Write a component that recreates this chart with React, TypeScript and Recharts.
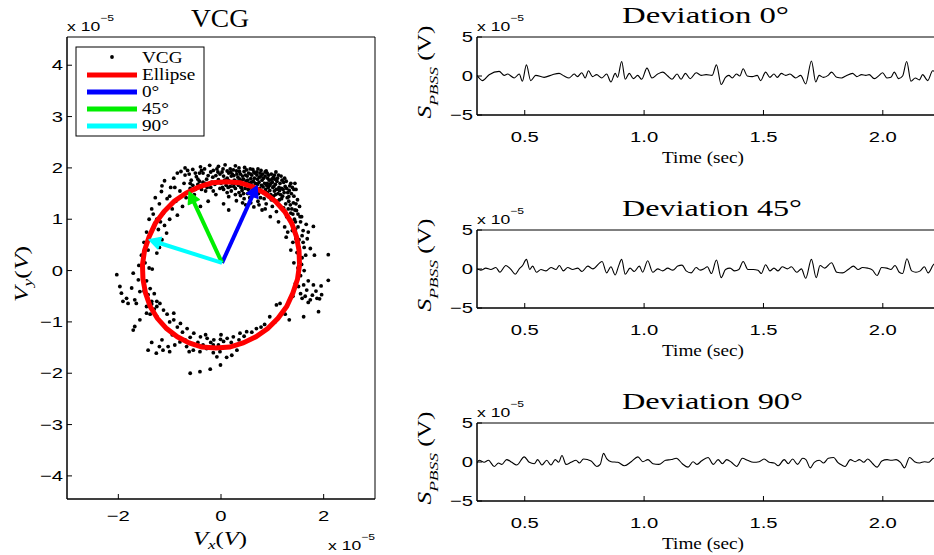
import React from 'react';
import { ScatterChart, Scatter, LineChart, Line, XAxis, YAxis, ReferenceArea } from 'recharts';

const SERIF = '"Liberation Serif", "Times New Roman", serif';
const SANS = '"Liberation Sans", Arial, sans-serif';

// VCG loop samples (x 1e-5 V)
const vcgPoints: [number, number][] = [
  [-0.78, 1.93], [-0.7, 2.0], [-0.62, 1.88], [-0.55, 1.97], [-0.48, 1.83], [-0.4, 2.02], [-0.35, 1.9], [-0.28, 1.78],
  [-0.22, 2.05], [-0.15, 1.95], [-0.1, 1.85], [-0.05, 2.03], [0.02, 1.92], [0.08, 2.06], [0.12, 1.8], [0.18, 1.98],
  [0.22, 1.88], [0.28, 2.04], [0.32, 1.74], [0.36, 1.93], [0.42, 1.84], [0.46, 2.01], [0.5, 1.68], [0.54, 1.9],
  [0.58, 1.79], [0.62, 1.97], [0.66, 1.58], [0.7, 1.86], [0.74, 1.72], [0.78, 1.95], [0.82, 1.63], [0.86, 1.84],
  [0.9, 1.52], [0.94, 1.76], [0.98, 1.88], [1.02, 1.45], [1.06, 1.68], [1.1, 1.8], [1.14, 1.38], [1.18, 1.6],
  [1.22, 1.72], [1.26, 1.3], [1.3, 1.52], [1.34, 1.65], [1.38, 1.2], [1.42, 1.45], [1.46, 1.58], [1.5, 1.1],
  [-0.3, 1.55], [-0.2, 1.62], [-0.1, 1.48], [0.0, 1.7], [0.05, 1.58], [0.1, 1.66], [0.15, 1.44], [0.2, 1.55],
  [0.25, 1.64], [0.3, 1.36], [0.35, 1.52], [0.4, 1.62], [0.45, 1.4], [0.48, 1.28], [0.52, 1.5], [0.56, 1.42],
  [0.6, 1.66], [0.64, 1.24], [0.68, 1.45], [0.72, 1.35], [0.76, 1.55], [0.8, 1.18], [0.84, 1.4], [0.88, 1.3],
  [0.92, 1.62], [0.96, 1.05], [1.0, 1.25], [1.04, 1.55], [1.08, 1.15], [1.12, 0.95], [1.16, 1.25], [1.2, 1.45],
  [1.24, 0.85], [1.28, 1.05], [1.32, 1.35],
  [-0.05, 1.77], [0.15, 1.75], [0.25, 1.85], [0.4, 1.75], [0.55, 1.7], [0.65, 1.8], [0.75, 1.82], [0.85, 1.7],
  [0.95, 1.66], [1.05, 1.78], [1.15, 1.7], [0.45, 1.93], [0.6, 1.86], [0.7, 1.92], [0.8, 1.76], [0.9, 1.9],
  [1.0, 1.72], [0.35, 2.0], [0.15, 1.9], [-0.25, 1.85],
  [0.22, 1.7], [0.28, 1.6], [0.33, 1.82], [0.38, 1.46], [0.43, 1.68], [0.48, 1.86], [0.53, 1.58], [0.57, 1.98],
  [0.62, 1.48], [0.67, 1.7], [0.72, 1.98], [0.77, 1.42], [0.81, 1.88], [0.87, 1.58], [0.91, 1.8], [0.97, 1.48],
  [1.01, 1.62], [1.07, 1.92], [1.11, 1.5], [1.17, 1.84], [1.21, 1.58], [1.27, 1.74], [1.31, 1.2], [1.37, 1.5],
  [1.41, 1.32], [1.44, 1.7], [1.49, 1.38], [1.53, 1.25], [1.57, 1.05], [1.43, 1.0], [1.39, 0.78], [1.27, 0.65],
  [-0.18, 1.72], [-0.08, 1.98], [0.05, 1.84], [-0.32, 1.98], [-0.42, 1.74], [-0.58, 1.76], [-0.65, 1.95], [-0.85, 1.9],
  [-0.25, 1.35], [0.05, 1.3], [0.15, 1.18], [-0.4, 1.25],
  [-0.5, 1.9], [-0.45, 1.78], [-0.38, 1.95], [-0.3, 1.7], [-0.2, 1.92], [-0.12, 1.68], [-0.02, 1.88], [0.04, 1.98],
  [0.1, 1.72], [0.12, 1.94], [0.18, 1.64], [0.2, 1.84], [0.26, 1.76], [0.3, 1.94], [0.34, 1.66], [0.38, 1.88],
  [0.41, 1.56], [0.44, 1.78], [0.47, 1.6], [0.5, 1.96], [0.52, 1.76], [0.55, 1.52], [0.58, 1.88], [0.61, 1.58],
  [0.63, 1.74], [0.66, 1.9], [0.69, 1.62], [0.71, 1.78], [0.73, 1.5], [0.76, 1.9], [0.79, 1.66], [0.83, 1.8],
  [0.85, 1.5], [0.88, 1.94], [0.89, 1.66], [0.93, 1.86], [0.95, 1.56], [0.99, 1.78], [1.03, 1.64], [1.04, 1.86],
  [1.08, 1.58], [1.09, 1.74], [1.13, 1.62], [1.16, 1.48], [1.19, 1.76], [1.23, 1.52], [1.25, 1.64], [1.29, 1.42],
  [1.33, 1.56], [1.35, 1.28], [1.39, 1.62], [1.4, 1.1], [1.46, 1.3], [1.44, 1.18], [1.36, 1.12], [1.22, 1.22],
  [1.1, 1.35], [0.98, 1.38], [0.86, 1.2], [0.74, 1.28], [0.58, 1.32], [0.42, 1.32], [0.28, 1.48], [0.12, 1.52],
  [-0.02, 1.6], [-0.15, 1.55], [-0.35, 1.72], [-0.55, 1.66], [-0.7, 1.86], [-0.9, 1.62], [-1.0, 1.45], [-1.15, 1.65],
  [-1.28, 1.42], [-1.4, 1.0], [-1.32, 1.1], [-1.1, 0.88], [-1.22, 0.8], [-1.15, 0.6], [-1.3, 0.55], [-1.2, 0.45],
  [-0.6, 1.7], [-0.5, 1.58], [-0.42, 1.9], [-0.27, 1.62], [-0.16, 1.82], [-0.06, 1.92], [0.03, 1.62], [0.07, 1.76],
  [0.14, 1.62], [0.19, 1.92], [0.24, 1.96], [0.27, 1.7], [0.31, 1.88], [0.37, 1.78], [0.39, 1.62], [0.44, 1.5],
  [0.49, 1.74], [0.51, 1.84], [0.56, 1.62], [0.59, 1.72], [0.64, 1.92], [0.67, 1.52], [0.71, 1.68], [0.75, 1.6],
  [0.78, 1.84], [0.82, 1.52], [0.86, 1.92], [0.9, 1.7], [0.93, 1.44], [0.97, 1.7], [1.02, 1.82], [1.06, 1.48],
  [1.12, 1.86], [1.14, 1.56], [1.18, 1.4], [1.24, 1.8], [1.28, 1.6], [1.32, 1.44], [1.36, 1.7], [1.42, 1.58],
  [-1.16, 1.54], [-1.1, 1.75], [-1.05, 1.4], [-0.98, 1.62], [-0.92, 1.8], [-0.88, 1.35], [-0.8, 1.55], [-0.72, 1.7],
  [-0.68, 1.42], [-0.6, 1.6], [-0.52, 1.48], [-0.45, 1.68], [-0.38, 1.58], [-1.12, 1.12], [-1.2, 1.3], [-1.25, 1.0],
  [-1.3, 0.85], [-1.06, 0.73], [-1.18, 0.95], [-0.95, 1.2], [-0.85, 1.08], [-0.75, 1.25], [-1.35, 1.2], [-1.0, 1.0],
  [1.47, 1.17], [1.55, 0.95], [1.6, 0.78], [1.52, 0.6], [1.62, 0.45], [1.45, 0.8], [1.4, 0.55], [1.35, 0.98],
  [1.58, 0.25], [1.48, 0.35], [1.42, 0.15], [1.8, 0.86], [1.74, 0.43], [1.82, 0.3], [1.68, 0.62], [2.09, 0.31],
  [1.3, 0.75], [1.36, 0.4], [1.5, 0.05], [1.55, -0.1],
  [1.45, 0.95], [1.5, 0.85], [1.58, 0.68], [1.6, 0.55], [1.52, 0.45], [1.65, 0.3], [1.57, 0.12], [1.62, 0.0],
  [1.46, 0.62], [1.38, 0.9], [1.66, 0.9], [1.7, 0.75], [1.54, 1.05],
  [2.09, -0.19], [1.96, -0.47], [1.8, -0.28], [1.67, -0.38], [1.87, -0.54], [1.74, -0.57], [1.58, -0.54], [1.61, -0.28],
  [1.51, -0.31], [1.33, -0.96], [1.61, -0.9], [1.9, -0.8], [1.08, -0.67], [1.15, -0.64], [1.7, -0.2], [1.85, -0.4],
  [1.95, -0.3], [1.78, -0.48], [1.64, -0.5], [1.92, -0.55], [1.7, -0.62], [1.55, -0.45], [1.45, -0.25], [1.4, -0.5],
  [-1.45, 0.75], [-1.5, 0.55], [-1.42, 0.4], [-1.55, 0.3], [-1.48, 0.15], [-1.4, 0.05], [-1.52, -0.05], [-1.45, -0.2],
  [-1.38, -0.35], [-1.5, -0.4], [-1.42, -0.55], [-1.35, -0.65], [-1.3, -0.75], [-1.25, -0.6], [-1.45, -0.7], [-1.38, -0.85],
  [-1.3, -0.45], [-1.6, 0.1], [-1.25, 0.34], [-1.34, 0.03],
  [-2.03, -0.08], [-1.71, -0.05], [-1.61, -0.18], [-1.94, -0.44], [-1.91, -0.6], [-1.81, -0.64], [-1.68, -0.57], [-1.58, -0.41],
  [-1.74, -0.34], [-1.84, -0.54], [-1.71, -1.16], [-1.68, -1.09], [-1.58, -0.96], [-1.45, -0.83], [-1.97, -0.31], [-1.65, -0.64],
  [-1.19, -0.64], [-1.25, -0.9], [-1.12, -0.77], [-0.92, -0.96], [-0.79, -1.03], [-0.66, -1.13], [-0.53, -1.22], [-0.4, -1.29],
  [-0.27, -1.32], [-0.14, -1.35], [-0.01, -1.34], [0.12, -1.32], [0.24, -1.29], [0.37, -1.22], [0.5, -1.19], [0.69, -1.13],
  [-1.42, -1.55], [-1.26, -1.61], [-1.13, -1.55], [-1.03, -1.48], [-0.9, -1.45], [-0.8, -1.39], [-0.67, -1.48], [-0.54, -1.55],
  [-0.41, -1.58], [-0.28, -1.52], [-0.15, -1.45], [-0.02, -1.58], [0.11, -1.69], [0.21, -1.65], [0.31, -1.55], [-0.08, -1.68],
  [-1.0, -1.58], [-0.6, -2.0], [-0.41, -1.97], [-0.21, -1.92], [-0.01, -1.84],
  [-0.92, -0.83], [-1.25, -0.7], [-1.35, -0.6], [-1.42, -0.47],
  [-0.6, -1.3], [-0.45, -1.4], [-0.35, -1.45], [-0.2, -1.4], [-0.05, -1.45], [0.05, -1.38], [0.2, -1.4], [0.35, -1.35],
  [0.45, -1.28], [0.6, -1.2], [-0.75, -1.2], [-0.85, -1.1], [-1.0, -1.0], [-1.05, -0.85], [-0.5, -1.45], [-0.3, -1.25],
  [0.0, -1.25], [0.3, -1.45], [-0.7, -1.35], [-0.95, -1.25], [-1.15, -1.35], [-1.35, -1.4], [-1.2, -1.48], [-0.62, -1.58],
  [-0.15, -1.6], [1.35, -0.55], [1.25, -0.85], [1.05, -1.0], [0.85, -1.05], [0.78, -1.1], [0.95, -0.9],
];

// fitted ellipse outline
const ellipsePoints: [number, number][] = [
  [1.53, 0.11], [1.52, 0.39], [1.47, 0.66], [1.38, 0.92], [1.24, 1.15], [1.06, 1.35], [0.85, 1.51], [0.62, 1.63],
  [0.37, 1.71], [0.1, 1.73], [-0.17, 1.71], [-0.43, 1.63], [-0.68, 1.51], [-0.91, 1.35], [-1.11, 1.15], [-1.28, 0.92],
  [-1.4, 0.66], [-1.49, 0.39], [-1.53, 0.11], [-1.52, -0.17], [-1.47, -0.44], [-1.38, -0.7], [-1.24, -0.93], [-1.06, -1.13],
  [-0.85, -1.29], [-0.62, -1.41], [-0.37, -1.49], [-0.1, -1.51], [0.17, -1.49], [0.43, -1.41], [0.68, -1.29], [0.91, -1.13],
  [1.11, -0.93], [1.28, -0.7], [1.4, -0.44], [1.49, -0.17], [1.53, 0.11],
];

const arrow0: [number, number][] = [[0.02, 0.15], [0.7, 1.65]];
const arrow45: [number, number][] = [[0.02, 0.15], [-0.62, 1.53]];
const arrow90: [number, number][] = [[0.02, 0.15], [-1.4, 0.6]];

const vcgTicksX = [-2, 0, 2];
const vcgTicksY = [-4, -3, -2, -1, 0, 1, 2, 3, 4];
const timeTicks = [0.5, 1.0, 1.5, 2.0];
const ampTicks = [-5, 0, 5];

// S_PBSS traces, [time (s), amplitude x 1e-5 V]
const dev0: [number, number][] = [
  [0.3, 0.08], [0.323, -0.59], [0.351, 0.17], [0.393, 0.59], [0.414, 0.08], [0.428, 0.25], [0.456, -0.25], [0.477, 0.25],
  [0.49, -0.67], [0.507, 1.43], [0.525, -0.59], [0.546, 0.08], [0.581, -0.17], [0.616, 0.17], [0.644, 0.34], [0.665, 0],
  [0.686, -0.25], [0.707, 0.25], [0.721, -0.08], [0.739, 0.42], [0.753, -0.25], [0.767, 0.67], [0.784, -0.08], [0.801, 0.17],
  [0.823, -0.25], [0.843, 0.25], [0.861, -0.76], [0.879, 0.34], [0.889, -0.17], [0.906, 1.85], [0.921, -0.42], [0.938, 0.34],
  [0.955, -0.34], [0.973, 0.08], [0.99, -0.42], [1.012, 1.01], [1.033, -0.25], [1.057, 0.25], [1.078, 0.5], [1.099, 0],
  [1.117, -0.42], [1.138, 0.25], [1.155, -0.42], [1.173, 0.34], [1.193, -0.34], [1.218, 0.42], [1.239, 0.08], [1.26, 0.17],
  [1.285, 0.08], [1.303, 1.43], [1.323, -1.09], [1.341, -0.17], [1.355, 0.08], [1.369, -0.25], [1.387, 0.25], [1.401, 0],
  [1.415, 0.92], [1.432, 0], [1.453, -0.08], [1.474, 0.08], [1.488, -0.59], [1.509, 0.5], [1.527, -0.17], [1.544, 0.25],
  [1.558, -0.17], [1.575, 0.34], [1.593, 0.08], [1.611, 0.25], [1.635, -0.25], [1.656, 0.08], [1.677, -1.01], [1.701, 1.93],
  [1.719, -0.76], [1.733, 0.08], [1.751, -0.17], [1.771, 0.08], [1.785, 0.5], [1.807, -0.17], [1.827, -0.25], [1.845, 0],
  [1.873, 0.34], [1.891, -0.08], [1.911, 0.17], [1.929, 0.08], [1.943, 0.17], [1.964, -0.34], [1.985, 0.08], [1.999, 0.42],
  [2.017, -0.25], [2.034, -0.17], [2.048, 0.5], [2.066, -0.34], [2.083, 0], [2.1, 1.85], [2.118, -0.67], [2.136, -0.25],
  [2.153, -0.5], [2.167, 0.17], [2.188, -0.59], [2.209, 0.67], [2.227, 0.4],
];

const dev45: [number, number][] = [
  [0.3, 0], [0.316, -0.15], [0.337, 0.11], [0.358, -0.06], [0.379, 0.19], [0.396, -0.41], [0.421, 0.45], [0.442, -0.06],
  [0.46, -0.67], [0.477, 0.02], [0.491, 0.45], [0.507, 1.23], [0.521, -0.06], [0.533, 0.37], [0.549, -0.41], [0.568, -0.06],
  [0.589, -0.24], [0.61, 0.19], [0.631, -0.06], [0.645, 0.45], [0.662, -0.24], [0.68, 0.19], [0.701, -0.06], [0.722, 0.11],
  [0.74, -0.32], [0.764, 0.37], [0.785, 0.02], [0.824, 0.97], [0.843, -0.5], [0.861, 0.28], [0.879, -0.76], [0.893, 0.37],
  [0.906, 1.23], [0.921, -0.67], [0.941, 0.11], [0.959, -0.32], [0.98, 0.37], [0.994, -0.41], [1.015, 1.06], [1.036, -0.41],
  [1.057, 0.02], [1.078, -0.24], [1.099, 0.11], [1.12, -0.15], [1.141, 0.37], [1.159, 0.5], [1.176, -0.24], [1.197, -0.5],
  [1.218, 0.19], [1.235, -0.15], [1.251, 0.02], [1.265, 0.28], [1.282, -0.58], [1.303, 1.15], [1.323, -1.1], [1.341, -0.06],
  [1.36, 0.11], [1.379, -0.24], [1.397, -0.06], [1.415, 0.97], [1.435, -0.06], [1.457, -0.06], [1.477, -0.15], [1.491, -0.58],
  [1.509, 0.54], [1.527, -0.24], [1.544, 0.11], [1.561, -0.24], [1.579, 0.28], [1.6, 0.02], [1.617, 0.28], [1.639, -0.41],
  [1.659, 0.02], [1.677, -1.19], [1.701, 1.23], [1.721, -1.1], [1.737, 0.45], [1.757, 0.11], [1.785, 0.8], [1.807, -0.41],
  [1.831, -0.5], [1.855, -0.06], [1.877, 0.37], [1.897, -0.06], [1.915, 0.19], [1.936, 0.11], [1.957, -0.15], [1.976, -0.84],
  [1.995, 0.19], [2.017, 0.11], [2.034, -0.06], [2.051, 0.45], [2.069, -0.41], [2.083, -0.58], [2.101, 1.32], [2.121, -0.24],
  [2.139, -0.41], [2.157, -0.24], [2.174, 0.28], [2.19, -0.5], [2.216, 0.63], [2.227, 0.45],
];

const dev90: [number, number][] = [
  [0.3, -0.13], [0.309, 0.22], [0.33, -0.04], [0.348, 0.22], [0.372, -0.57], [0.39, -0.13], [0.404, -0.31], [0.424, 0.31],
  [0.446, -0.04], [0.466, -0.39], [0.498, 0.66], [0.519, -0.04], [0.54, -0.22], [0.554, 0.31], [0.572, -0.39], [0.592, 0.22],
  [0.61, -0.39], [0.628, 0.31], [0.642, -0.04], [0.656, 0.83], [0.673, -0.31], [0.694, -0.04], [0.715, 0.22], [0.729, -0.13],
  [0.746, 0.39], [0.778, 0.13], [0.802, -0.57], [0.816, -0.31], [0.83, 1.1], [0.844, 0.39], [0.862, 0.04], [0.89, -0.04],
  [0.918, -0.48], [0.946, 0.04], [0.974, 0.66], [0.995, 0.04], [1.016, 0.31], [1.037, -0.22], [1.062, -0.31], [1.09, 0.22],
  [1.114, 0.31], [1.135, 0.48], [1.16, -0.22], [1.184, -0.66], [1.205, 0.04], [1.222, -0.31], [1.24, 0.13], [1.268, 0.57],
  [1.29, -0.31], [1.31, 0.31], [1.328, -0.22], [1.346, 0.31], [1.366, -0.04], [1.388, -0.57], [1.412, 0.48], [1.433, 0.22],
  [1.458, -0.04], [1.482, 0.04], [1.503, 0.39], [1.524, -0.04], [1.545, -0.13], [1.562, -0.48], [1.587, 0.31], [1.604, -0.22],
  [1.622, 0.39], [1.643, -0.31], [1.664, 0.48], [1.678, 0.31], [1.696, -0.75], [1.713, -0.04], [1.734, 0.22], [1.752, -0.13],
  [1.772, 0.48], [1.794, 0.57], [1.811, -0.04], [1.828, -0.39], [1.842, -0.57], [1.864, 0.31], [1.884, 0.04], [1.902, 0.31],
  [1.92, -0.04], [1.937, 0.39], [1.958, -0.22], [1.976, -0.66], [1.996, 0.13], [2.018, 0.31], [2.035, 0.22], [2.056, 0.31],
  [2.074, -0.04], [2.091, -0.75], [2.112, 0.57], [2.133, 0.04], [2.154, -0.13], [2.174, 0.04], [2.191, -0.04], [2.213, 0.48],
  [2.227, 0.3],
];

const toXY = (pts: [number, number][]) => pts.map(([x, y]) => ({ x, y }));
const toTV = (pts: [number, number][]) => pts.map(([t, v]) => ({ t, v }));

const minus = (v: number) => (v < 0 ? '\u2212' + Math.abs(v) : String(v));

const tickText = (anchor: string, fmt: (v: number) => string) => (p: any) => (
  <text
    transform={`translate(${p.x},${p.y}) scale(1.35,1)`}
    textAnchor={anchor}
    dominantBaseline="central"
    fontFamily={SANS}
    fontSize={15}
    fill="#000"
  >
    {fmt(p.payload.value)}
  </text>
);

const AXIS_LINE = { stroke: '#000', strokeWidth: 1 };
const TICK_LINE = { stroke: '#000', strokeWidth: 1 };

const noDot = () => <g />;
const blackDot = (p: any) => <circle cx={p.cx} cy={p.cy} r={1.9} fill="#000" />;

const arrowLine = (color: string) => (p: any) => {
  const pts = p.points;
  if (!pts || pts.length < 2) return <g />;
  const a = pts[0];
  const b = pts[pts.length - 1];
  const dx = b.x - a.x;
  const dy = b.y - a.y;
  const len = Math.hypot(dx, dy) || 1;
  const ux = dx / len;
  const uy = dy / len;
  const bx = b.x - ux * 11;
  const by = b.y - uy * 11;
  return (
    <g>
      <line x1={a.x} y1={a.y} x2={bx + ux * 2} y2={by + uy * 2} stroke={color} strokeWidth={4} />
      <polygon
        points={`${b.x},${b.y} ${bx - uy * 6},${by + ux * 6} ${bx + uy * 6},${by - ux * 6}`}
        fill={color}
        stroke={color}
        strokeWidth={1.5}
        strokeLinejoin="round"
      />
    </g>
  );
};

function VcgChart() {
  return (
    <div style={{ position: 'absolute', left: 0, top: 0 }}>
      <ScatterChart width={400} height={555} margin={{ top: 37, right: 25, bottom: 26, left: 17 }}>
        <XAxis
          type="number" dataKey="x" domain={[-3, 3]} ticks={vcgTicksX} interval={0} allowDataOverflow
          tickSize={-5} tickMargin={22} height={30} axisLine={AXIS_LINE} tickLine={TICK_LINE}
          tick={tickText('middle', minus)}
        />
        <XAxis
          xAxisId="top" orientation="top" type="number" domain={[-3, 3]} ticks={vcgTicksX} interval={0}
          allowDataOverflow tickSize={-5} height={0} axisLine={AXIS_LINE} tickLine={TICK_LINE} tick={false}
        />
        <YAxis
          type="number" dataKey="y" domain={[-4.45, 4.55]} ticks={vcgTicksY} interval={0} allowDataOverflow
          tickSize={-5} tickMargin={9} width={50} axisLine={AXIS_LINE} tickLine={TICK_LINE}
          tick={tickText('end', minus)}
        />
        <YAxis
          yAxisId="right" orientation="right" type="number" domain={[-4.45, 4.55]} ticks={vcgTicksY} interval={0}
          allowDataOverflow tickSize={-5} width={0} axisLine={AXIS_LINE} tickLine={TICK_LINE} tick={false}
        />
        <ReferenceArea x1={-3} x2={3} y1={-4.45} y2={4.55} fill="none" fillOpacity={0} stroke="#000" strokeWidth={1} />
        <Scatter data={toXY(vcgPoints)} fill="#000" shape={blackDot} isAnimationActive={false} />
        <Scatter
          data={toXY(ellipsePoints)} fill="#ff0000" shape={noDot} lineType="joint"
          line={{ stroke: '#ff0000', strokeWidth: 5 }} isAnimationActive={false}
        />
        <Scatter data={toXY(arrow0)} fill="#0000ff" shape={noDot} lineType="joint" line={arrowLine('#0000ff')} isAnimationActive={false} />
        <Scatter data={toXY(arrow45)} fill="#00ee00" shape={noDot} lineType="joint" line={arrowLine('#00ee00')} isAnimationActive={false} />
        <Scatter data={toXY(arrow90)} fill="#00ffff" shape={noDot} lineType="joint" line={arrowLine('#00ffff')} isAnimationActive={false} />
      </ScatterChart>
    </div>
  );
}

function SignalPanel({ data, top }: { data: [number, number][]; top: number }) {
  return (
    <div style={{ position: 'absolute', left: 410, top }}>
      <LineChart width={540} height={193} data={toTV(data)} margin={{ top: 37, right: 13, bottom: 48, left: 17 }}>
        <XAxis
          type="number" dataKey="t" domain={[0.3, 2.227]} ticks={timeTicks} interval={0} allowDataOverflow
          tickSize={-5} tickMargin={27} height={30} axisLine={AXIS_LINE} tickLine={TICK_LINE}
          tick={tickText('middle', (v) => v.toFixed(1))}
        />
        <XAxis
          xAxisId="top" orientation="top" type="number" domain={[0.3, 2.227]} ticks={timeTicks} interval={0}
          allowDataOverflow tickSize={-5} height={0} axisLine={AXIS_LINE} tickLine={TICK_LINE} tick={false}
        />
        <YAxis
          type="number" domain={[-5, 5]} ticks={ampTicks} interval={0} allowDataOverflow
          tickSize={-5} tickMargin={9} width={50} axisLine={AXIS_LINE} tickLine={TICK_LINE}
          tick={tickText('end', minus)}
        />
        <ReferenceArea x1={0.3} x2={2.227} y1={-5} y2={5} fill="none" fillOpacity={0} stroke="#000" strokeWidth={1} />
        <Line dataKey="v" type="monotone" stroke="#000" strokeWidth={1.1} dot={false} isAnimationActive={false} />
      </LineChart>
    </div>
  );
}

function Exponent({ x, y }: { x: number; y: number }) {
  return (
    <text transform={`translate(${x},${y}) scale(1.35,1)`} fontFamily={SANS} fontSize={13} fill="#000">
      x 10
      <tspan dy={-10} fontSize={9}>{'\u22125'}</tspan>
    </text>
  );
}

const legendRows = [
  { label: 'VCG', color: '#000', kind: 'dot' },
  { label: 'Ellipse', color: '#ff0000', kind: 'line' },
  { label: '0\u00b0', color: '#0000ff', kind: 'line' },
  { label: '45\u00b0', color: '#00ee00', kind: 'line' },
  { label: '90\u00b0', color: '#00ffff', kind: 'line' },
];

const panelTitles = ['Deviation 0\u00b0', 'Deviation 45\u00b0', 'Deviation 90\u00b0'];
const panelTitleWidths = [167, 180, 181];
const panelTops = [0, 193, 386];

function Overlay() {
  return (
    <svg width={934} height={555} style={{ position: 'absolute', left: 0, top: 0, pointerEvents: 'none' }}>
      <text x={220} y={27} textAnchor="middle" fontFamily={SERIF} fontSize={25} textLength={58} lengthAdjust="spacingAndGlyphs">
        VCG
      </text>
      <Exponent x={67} y={31} />
      <Exponent x={328} y={550} />
      <text transform="translate(220,545) scale(1.3,1)" textAnchor="middle" fontFamily={SERIF} fontSize={19}>
        <tspan fontStyle="italic">V</tspan>
        <tspan fontStyle="italic" fontSize={13} dy={4}>x</tspan>
        <tspan dy={-4}>(</tspan>
        <tspan fontStyle="italic">V</tspan>
        <tspan>)</tspan>
      </text>
      <text transform="translate(28,274) rotate(-90) scale(1.35,1)" textAnchor="middle" fontFamily={SERIF} fontSize={19}>
        <tspan fontStyle="italic">V</tspan>
        <tspan fontStyle="italic" fontSize={13} dy={4}>y</tspan>
        <tspan dy={-4}>(</tspan>
        <tspan fontStyle="italic">V</tspan>
        <tspan>)</tspan>
      </text>

      <g>
        <rect x={76} y={47} width={128} height={89} fill="#fff" stroke="#000" strokeWidth={1} />
        {legendRows.map((r, i) => {
          const cy = 58 + i * 17;
          return (
            <g key={r.label}>
              {r.kind === 'dot' ? (
                <circle cx={112} cy={cy - 1} r={1.9} fill="#000" />
              ) : (
                <line x1={87} x2={137} y1={cy} y2={cy} stroke={r.color} strokeWidth={5} />
              )}
              <text transform={`translate(142,${cy + 5}) scale(1.2,1)`} fontFamily={SERIF} fontSize={16} fill="#000">
                {r.label}
              </text>
            </g>
          );
        })}
      </g>

      {panelTops.map((off, i) => (
        <g key={off}>
          <text x={622} y={23 + off} fontFamily={SERIF} fontSize={23} textLength={panelTitleWidths[i]} lengthAdjust="spacingAndGlyphs">
            {panelTitles[i]}
          </text>
          <Exponent x={477} y={31 + off} />
          <text x={703} y={163 + off} textAnchor="middle" fontFamily={SERIF} fontSize={17} textLength={82} lengthAdjust="spacingAndGlyphs">
            Time (sec)
          </text>
          <text transform={`translate(431,${72 + off}) rotate(-90) scale(1.34,1)`} textAnchor="middle" fontFamily={SERIF} fontSize={19}>
            <tspan fontStyle="italic">S</tspan>
            <tspan fontStyle="italic" fontSize={13} dy={7}>PBSS</tspan>
            <tspan dy={-7}> (V)</tspan>
          </text>
        </g>
      ))}
    </svg>
  );
}

export default function App() {
  return (
    <div style={{ position: 'absolute', left: 0, top: 0, width: 934, height: 555, overflow: 'hidden', background: '#fff' }}>
      <VcgChart />
      <SignalPanel data={dev0} top={panelTops[0]} />
      <SignalPanel data={dev45} top={panelTops[1]} />
      <SignalPanel data={dev90} top={panelTops[2]} />
      <Overlay />
    </div>
  );
}
